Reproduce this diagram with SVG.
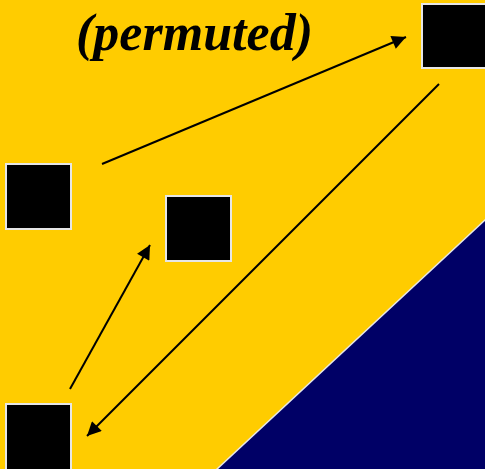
<svg xmlns="http://www.w3.org/2000/svg" width="485" height="469" viewBox="0 0 485 469">
<defs>
<style>
.node{fill:#000;stroke:#e6e6e6;stroke-width:2}
.conn{stroke:#000;stroke-width:2;fill:none;marker-end:url(#ah)}
.title{font-family:"Liberation Serif",serif;font-weight:bold;font-style:italic;font-size:52px;fill:#000}
</style>
<marker id="ah" viewBox="0 0 10 10" refX="10" refY="5" markerWidth="8" markerHeight="7" markerUnits="strokeWidth" orient="auto">
<path d="M0,0 L10,5 L0,10 z" fill="#000"/>
</marker>
</defs>
<rect x="0" y="0" width="485" height="469" fill="#FFCC00"/>
<polygon points="486,219 486,470 216,470" fill="#000066" stroke="#e6e6e6" stroke-width="1.5"/>
<text class="title" x="76" y="50" textLength="237">(permuted)</text>
<g id="node-top-right"><rect class="node" x="422" y="4" width="66" height="64"/></g>
<g id="node-left"><rect class="node" x="6" y="164" width="65" height="65"/></g>
<g id="node-middle"><rect class="node" x="166" y="196" width="65" height="65"/></g>
<g id="node-bottom-left"><rect class="node" x="6" y="404" width="65" height="67"/></g>
<g id="connectors">
<line class="conn" x1="102" y1="164" x2="406" y2="37"/>
<line class="conn" x1="70" y1="389" x2="150" y2="245"/>
<line class="conn" x1="439" y1="84" x2="87" y2="436"/>
</g>
</svg>
